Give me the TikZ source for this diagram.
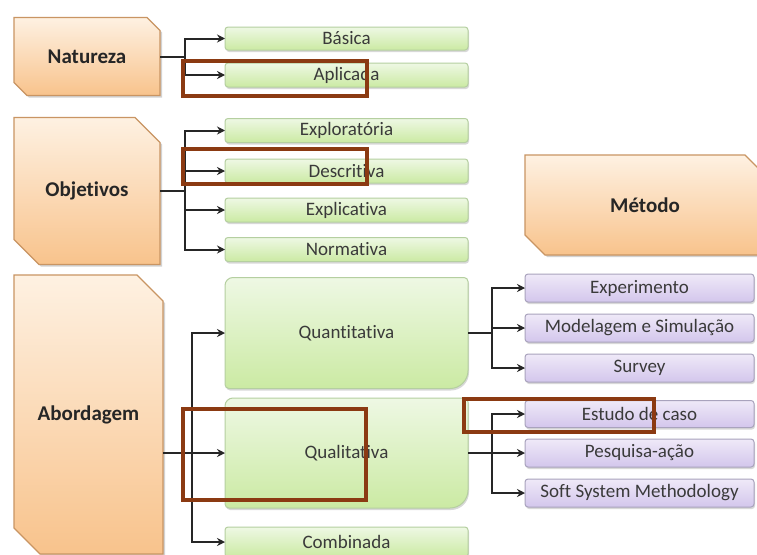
\documentclass[tikz,border=0pt]{standalone}
\usepackage{fontspec}
\setmainfont{Carlito}[Ligatures=NoCommon]
\usetikzlibrary{calc,arrows.meta,shadows}
\pgfdeclarelayer{bg}\pgfdeclarelayer{paper}\pgfsetlayers{paper,bg,main}

\definecolor{orTop}{HTML}{FEF1E2}
\definecolor{orBot}{HTML}{F8C38C}
\definecolor{orEdge}{HTML}{C99563}
\definecolor{grTop}{HTML}{EEF8E4}
\definecolor{grBot}{HTML}{CBEAA3}
\definecolor{grEdge}{HTML}{B5CFA0}
\definecolor{puTop}{HTML}{EFE9F8}
\definecolor{puBot}{HTML}{D3C6EC}
\definecolor{puEdge}{HTML}{A9A3BD}
\definecolor{hl}{HTML}{8B3A12}
\definecolor{txt}{HTML}{3A3A3A}

\tikzset{
  box/.style={inner sep=0pt, outer sep=0pt, font=\fontsize{19}{22}\selectfont, text=txt},
  parent/.style={box, font=\bfseries\fontsize{21}{24}\selectfont, text=black!85},
  conn/.style={line width=2pt, black!85, -{Stealth[length=8pt,width=8pt]}},
  orfill/.style={top color=orTop, bottom color=orBot, draw=orEdge, line width=1.2pt,
    drop shadow={shadow xshift=2pt, shadow yshift=-2pt, opacity=.35}},
  grfill/.style={top color=grTop, bottom color=grBot, draw=grEdge, line width=1pt,
    drop shadow={shadow xshift=1pt, shadow yshift=-2pt, opacity=.3}},
  pufill/.style={top color=puTop, bottom color=puBot, draw=puEdge, line width=1pt,
    drop shadow={shadow xshift=1pt, shadow yshift=-2pt, opacity=.3}},
  hlbox/.style={draw=hl, line width=4pt},
}

\newcommand\snipshape[3]{%
  \begin{pgfonlayer}{bg}
  \path[#3] (#1.north west) -- ($(#1.north east)+(-#2,0)$) -- ($(#1.north east)+(0,#2)$)
    -- (#1.south east) -- ($(#1.south west)+(#2,0)$) -- ($(#1.south west)+(0,-#2)$) -- cycle;
  \end{pgfonlayer}}
\newcommand\roundshape[2]{%
  \begin{pgfonlayer}{bg}
  \path[#2, rounded corners=3pt] (#1.north west) rectangle (#1.south east);
  \end{pgfonlayer}}
\newcommand\bigshape[1]{%
  \begin{pgfonlayer}{bg}
  \path[grfill] (#1.west) [rounded corners=8pt] |- (#1.north) [rounded corners=4pt] -| (#1.east)
    [rounded corners=18pt] |- (#1.south) [rounded corners=4pt] -| (#1.west) -- cycle;
  \end{pgfonlayer}}

\begin{document}
\begin{tikzpicture}[x=1pt,y=-1pt]
\useasboundingbox (0,0) rectangle (757,554);
\begin{pgfonlayer}{paper}
\fill[white] (0,0) rectangle (757,554);
\end{pgfonlayer}

% parents
\node[parent, minimum width=146pt, minimum height=78pt] (nat) at (87,56.5) {Natureza};
\node[parent, minimum width=146pt, minimum height=147pt] (obj) at (87,191) {Objetivos};
\node[parent, minimum width=149pt, minimum height=279pt] (abo) at (88.5,414.5) {Abordagem};
\node[parent, minimum width=240pt, minimum height=100pt] (met) at (645,205) {Método};
\snipshape{nat}{13}{orfill}
\snipshape{obj}{25}{orfill}
\snipshape{abo}{26}{orfill}
\snipshape{met}{20}{orfill}

% green small
\node[box, minimum width=243pt, minimum height=23pt] (bas) at (346.5,38.5) {Básica};
\node[box, minimum width=243pt, minimum height=24pt] (apl) at (346.5,75) {Aplicada};
\node[box, minimum width=243pt, minimum height=24pt] (exl) at (346.5,130.5) {Exploratória};
\node[box, minimum width=243pt, minimum height=24pt] (des) at (346.5,171) {Descritiva};
\node[box, minimum width=243pt, minimum height=24pt] (exp) at (346.5,210) {Explicativa};
\node[box, minimum width=243pt, minimum height=24pt] (nor) at (346.5,249.5) {Normativa};
\node[box, minimum width=243pt, minimum height=30pt] (com) at (346.5,542) {Combinada};
\foreach \n in {bas,apl,exl,des,exp,nor,com} {\roundshape{\n}{grfill}}

% green big
\node[box, minimum width=243pt, minimum height=111pt] (qua) at (346.5,333) {Quantitativa};
\node[box, minimum width=243pt, minimum height=110pt] (qli) at (346.5,453) {Qualitativa};
\bigshape{qua}
\bigshape{qli}

% purple
\node[box, minimum width=229pt, minimum height=28pt] (epm) at (639.5,288) {Experimento};
\node[box, minimum width=229pt, minimum height=28pt] (mod) at (639.5,328) {Modelagem e Simulação};
\node[box, minimum width=229pt, minimum height=28pt] (sur) at (639.5,368) {Survey};
\node[box, minimum width=229pt, minimum height=27pt] (est) at (639.5,414) {Estudo de caso};
\node[box, minimum width=229pt, minimum height=28pt] (pes) at (639.5,453) {Pesquisa-ação};
\node[box, minimum width=229pt, minimum height=28pt] (ssm) at (639.5,493) {Soft System Methodology};
\foreach \n in {epm,mod,sur,est,pes,ssm} {\roundshape{\n}{pufill}}

% connectors
\foreach \t in {bas,apl} {\draw[conn] (nat.east) -- ++(25,0) |- (\t.west);}
\foreach \t in {exl,des,exp,nor} {\draw[conn] (obj.east) -- ++(25,0) |- (\t.west);}
\coordinate (abj) at (abo.east |- qli.west);
\foreach \t in {qua,qli,com} {\draw[conn] (abj) -- ++(29,0) |- (\t.west);}
\foreach \t in {epm,mod,sur} {\draw[conn] (qua.east) -- ++(24,0) |- (\t.west);}
\foreach \t in {est,pes,ssm} {\draw[conn] (qli.east) -- ++(24,0) |- (\t.west);}

% highlight frames
\draw[hlbox] (183,61) rectangle (367,96);
\draw[hlbox] (183,149) rectangle (367,184);
\draw[hlbox] (183,409) rectangle (366,500);
\draw[hlbox] (464,399) rectangle (654,432);
\end{tikzpicture}
\end{document}
